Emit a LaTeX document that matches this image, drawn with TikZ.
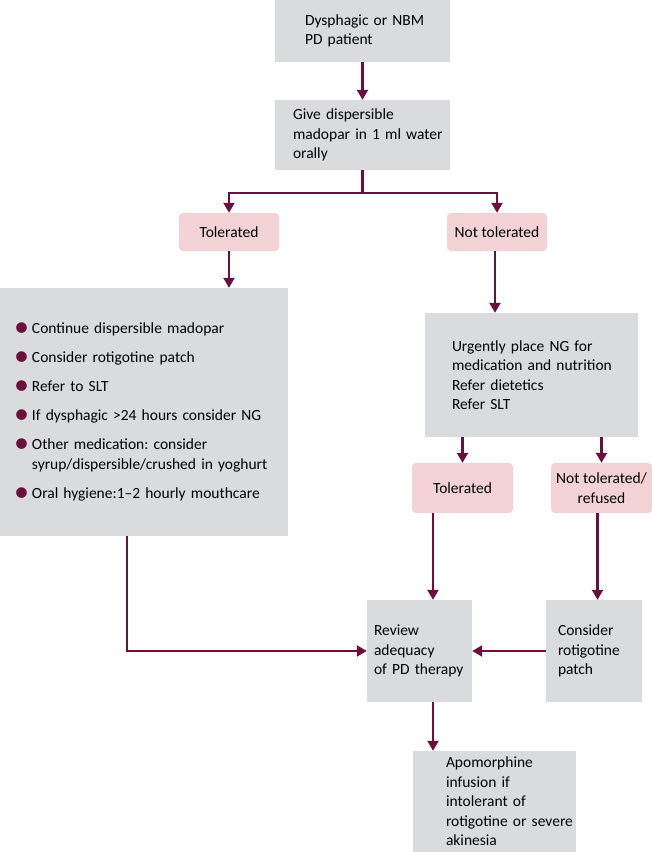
\documentclass[tikz,border=0pt]{standalone}
\usepackage{fontspec}
\setmainfont{Carlito}
\usetikzlibrary{arrows.meta}
\definecolor{boxgray}{RGB}{217,219,220}
\definecolor{boxpink}{RGB}{242,210,213}
\definecolor{pdmaroon}{RGB}{107,16,62}
\newcommand{\bul}{\textcolor{pdmaroon}{\fontsize{30}{19.5}\selectfont\raisebox{-3.2pt}{•}}}
\frenchspacing
\begin{document}
\begin{tikzpicture}[x=1pt,y=-1pt,
  font=\fontsize{15.5}{19.5}\selectfont\frenchspacing,
  graybox/.style={fill=boxgray,draw=none,inner sep=0pt,align=left},
  pinkbox/.style={fill=boxpink,draw=none,rounded corners=4pt,inner sep=0pt,align=center},
  flow/.style={draw=pdmaroon,line width=2.2pt,-{Triangle[width=11pt,length=10pt]}},
  plain/.style={draw=pdmaroon,line width=2.2pt}]
\useasboundingbox (0,0) rectangle (652,852);

\node[graybox,minimum height=62,text width=175] (start) at (362.5,31) {\leftskip=30pt Dysphagic or NBM\\PD patient\par};
\node[graybox,minimum height=70,text width=175] (give) at (362.5,135) {\leftskip=18pt Give dispersible\\madopar in 1 ml water\\orally\par};
\node[pinkbox,minimum width=100,minimum height=38] (tol) at (229,232) {Tolerated};
\node[pinkbox,minimum width=100,minimum height=38] (ntol) at (497,232) {Not tolerated};
\node[graybox,minimum height=248,text width=288] (cont) at (144,412) {\leftskip=14pt
\begin{tabular}{@{}p{18pt}@{}l@{}}
\bul & Continue dispersible madopar\\[9.5pt]
\bul & Consider rotigotine patch\\[9.5pt]
\bul & Refer to SLT\\[9.5pt]
\bul & If dysphagic >24 hours consider NG\\[9.5pt]
\bul & Other medication: consider\\
 & syrup/dispersible/crushed in yoghurt\\[9.5pt]
\bul & Oral hygiene:1--2 hourly mouthcare
\end{tabular}\par};
\node[graybox,minimum height=124,text width=213] (ng) at (531.5,375) {\leftskip=27pt Urgently place NG for\\medication and nutrition\\Refer dietetics\\Refer SLT\par};
\node[pinkbox,minimum width=101,minimum height=50] (tol2) at (462.5,488) {Tolerated};
\node[pinkbox,minimum width=101,minimum height=50] (ntol2) at (601.5,488) {Not tolerated/\\refused};
\node[graybox,minimum height=102,text width=105] (review) at (419.5,651) {\leftskip=7pt Review\\adequacy\\of PD therapy\par};
\node[graybox,minimum height=102,text width=96] (patch) at (594,651) {\leftskip=12pt Consider\\rotigotine\\patch\par};
\node[graybox,minimum height=101,text width=163] (apo) at (494.5,801.5) {\leftskip=33pt Apomorphine\\infusion if\\intolerant of\\rotigotine or severe\\akinesia\par};

\draw[flow] (start) -- (give);
\draw[plain] (give.south) -- ++(0,23) coordinate (split);
\draw[flow] (split) -| (tol.north);
\draw[flow] (split) -| (ntol.north);
\draw[flow] (tol.south) -- (tol.south |- cont.north);
\draw[flow] ([xshift=-2pt]ntol.south) -- ([xshift=-2pt]ntol.south |- ng.north);
\draw[flow] (tol2.north |- ng.south) -- (tol2.north);
\draw[flow] (ntol2.north |- ng.south) -- (ntol2.north);
\draw[flow] ([xshift=-29.5pt]tol2.south) -- ([xshift=-29.5pt]tol2.south |- review.north);
\draw[flow] ([xshift=-4pt]ntol2.south) -- ([xshift=-4pt]ntol2.south |- patch.north);
\draw[flow] (patch.west) -- (review.east);
\draw[flow] ([xshift=-17pt]cont.south) |- (review.west);
\draw[flow] ([xshift=13.5pt]review.south) -- ([xshift=13.5pt]review.south |- apo.north);
\end{tikzpicture}
\end{document}
